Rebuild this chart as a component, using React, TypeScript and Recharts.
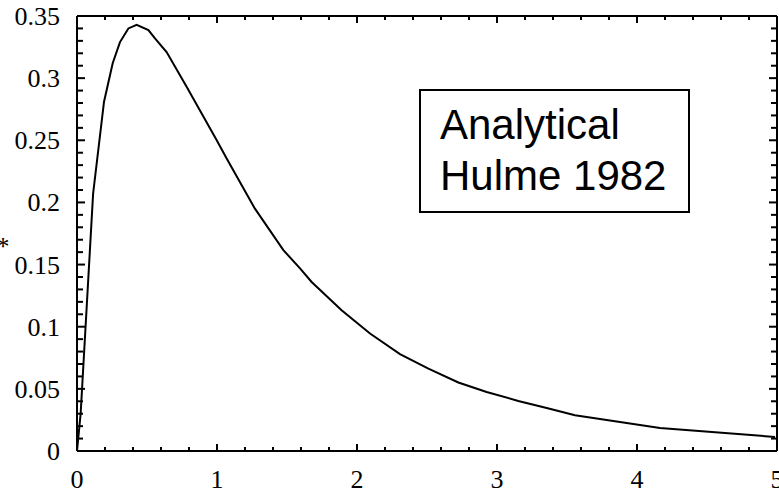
import React from 'react'
import { LineChart, Line, XAxis, YAxis } from 'recharts'

// curve
const xValues = [0, 0.026, 0.115, 0.193, 0.255, 0.307, 0.367, 0.426, 0.51, 0.557, 0.64, 0.783, 0.998, 1.069, 1.271, 1.474, 1.593, 1.676, 1.89, 2.093, 2.307, 2.51, 2.724, 2.926, 3.152, 3.355, 3.557, 4.164, 4.986]
const yValues = [0, 0.03, 0.207, 0.281, 0.312, 0.329, 0.34, 0.3428, 0.3387, 0.332, 0.321, 0.293, 0.25, 0.2354, 0.195, 0.1616, 0.147, 0.136, 0.1133, 0.0945, 0.0779, 0.0663, 0.0551, 0.0475, 0.0403, 0.0346, 0.0287, 0.0185, 0.0113]

const xTicks = [0, 0.2, 0.4, 0.6, 0.8, 1, 1.2, 1.4, 1.6, 1.8, 2, 2.2, 2.4, 2.6, 2.8, 3, 3.2, 3.4, 3.6, 3.8, 4, 4.2, 4.4, 4.6, 4.8, 5]
const yTicks = [0, 0.01, 0.02, 0.03, 0.04, 0.05, 0.06, 0.07, 0.08, 0.09, 0.1, 0.11, 0.12, 0.13, 0.14, 0.15, 0.16, 0.17, 0.18, 0.19, 0.2, 0.21, 0.22, 0.23, 0.24, 0.25, 0.26, 0.27, 0.28, 0.29, 0.3, 0.31, 0.32, 0.33, 0.34, 0.35]

const legendLines = ['Analytical', 'Hulme 1982']

const data = xValues.map((x, i) => ({ x, y: yValues[i] }))

const serif = '"Liberation Serif", "Times New Roman", serif'

const isMajorX = (v: number) => Math.abs(v - Math.round(v)) < 1e-6
const isMajorY = (v: number) => Math.abs(v * 20 - Math.round(v * 20)) < 1e-6

const BottomTick = (props: any) => {
  const { x, y, payload } = props
  const major = isMajorX(payload.value)
  return (
    <g>
      <line x1={x} x2={x} y1={y} y2={y - (major ? 7 : 4)} stroke="#000" strokeWidth={2} />
      {major && (
        <text x={x} y={y + 37} textAnchor="middle" fontFamily={serif} fontSize={26} fill="#000">
          {payload.value}
        </text>
      )}
    </g>
  )
}

const TopTick = (props: any) => {
  const { x, y, payload } = props
  const major = isMajorX(payload.value)
  return <line x1={x} x2={x} y1={y} y2={y + (major ? 7 : 4)} stroke="#000" strokeWidth={2} />
}

const LeftTick = (props: any) => {
  const { x, y, payload } = props
  const major = isMajorY(payload.value)
  return (
    <g>
      <line x1={x} x2={x + (major ? 8 : 6)} y1={y} y2={y} stroke="#000" strokeWidth={2} />
      {major && (
        <text x={x - 17} y={y + 9} textAnchor="end" fontFamily={serif} fontSize={26} fill="#000">
          {payload.value === 0 ? '0' : String(payload.value)}
        </text>
      )}
    </g>
  )
}

const RightTick = (props: any) => {
  const { x, y, payload } = props
  const major = isMajorY(payload.value)
  return <line x1={x} x2={x - (major ? 8 : 6)} y1={y} y2={y} stroke="#000" strokeWidth={2} />
}

export default function App() {
  return (
    <div style={{ position: 'absolute', left: 0, top: 0, width: 779, height: 492, background: '#fff' }}>
      <LineChart width={779} height={492} data={data} margin={{ top: 0, right: 0, bottom: 0, left: 0 }}>
        <XAxis
          xAxisId="b"
          dataKey="x"
          type="number"
          domain={[0, 5]}
          allowDataOverflow
          ticks={xTicks}
          interval={0}
          height={41}
          tickSize={0}
          tickMargin={0}
          tickLine={false}
          tick={BottomTick}
          axisLine={{ stroke: '#000', strokeWidth: 2 }}
        />
        <XAxis
          xAxisId="t"
          orientation="top"
          dataKey="x"
          type="number"
          domain={[0, 5]}
          allowDataOverflow
          ticks={xTicks}
          interval={0}
          height={16}
          tickSize={0}
          tickMargin={0}
          tickLine={false}
          tick={TopTick}
          axisLine={{ stroke: '#000', strokeWidth: 2 }}
        />
        <YAxis
          yAxisId="l"
          type="number"
          domain={[0, 0.35]}
          allowDataOverflow
          ticks={yTicks}
          interval={0}
          width={77}
          tickSize={0}
          tickMargin={0}
          tickLine={false}
          tick={LeftTick}
          axisLine={{ stroke: '#000', strokeWidth: 2 }}
        />
        <YAxis
          yAxisId="r"
          orientation="right"
          type="number"
          domain={[0, 0.35]}
          allowDataOverflow
          ticks={yTicks}
          interval={0}
          width={2}
          tickSize={0}
          tickMargin={0}
          tickLine={false}
          tick={RightTick}
          axisLine={{ stroke: '#000', strokeWidth: 2 }}
        />
        <Line
          xAxisId="b"
          yAxisId="l"
          type="linear"
          dataKey="y"
          stroke="#000"
          strokeWidth={2}
          dot={false}
          isAnimationActive={false}
        />
      </LineChart>
      <div
        style={{
          position: 'absolute',
          left: -3.5,
          top: 233.7,
          fontFamily: serif,
          fontSize: 26,
          lineHeight: '26px',
          color: '#000',
        }}
      >
        *
      </div>
      <div
        style={{
          position: 'absolute',
          left: 419,
          top: 89,
          width: 271,
          height: 124,
          boxSizing: 'border-box',
          border: '2px solid #000',
          background: '#fff',
          paddingLeft: 19,
          paddingTop: 7.5,
          fontFamily: '"Liberation Sans", Arial, sans-serif',
          fontSize: 42,
          lineHeight: '51px',
          color: '#000',
        }}
      >
        {legendLines.map((t) => (
          <div key={t}>{t}</div>
        ))}
      </div>
    </div>
  )
}
